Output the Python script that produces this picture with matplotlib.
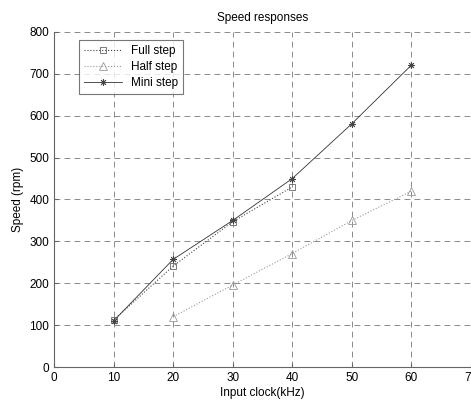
import matplotlib
matplotlib.use("Agg")
import matplotlib.pyplot as plt

plt.rcParams['font.family'] = ['Liberation Sans', 'DejaVu Sans']

# speed readings (rpm) against input clock (kHz)
full_x = [10, 20, 30, 40]
full_y = [112, 241, 347, 430]
half_x = [20, 30, 40, 50, 60]
half_y = [120, 196, 271, 350, 420]
mini_x = [10, 20, 30, 40, 50, 60]
mini_y = [110, 257, 350, 450, 581, 721]

x_ticks = [0, 10, 20, 30, 40, 50, 60, 70]
y_ticks = [0, 100, 200, 300, 400, 500, 600, 700, 800]

fig = plt.figure(figsize=(4.71, 4.01), dpi=100)
ax = fig.add_axes([54/471, 34/401, 417/471, 335/401])

ax.plot(full_x, full_y, color='#444444', linestyle=':', linewidth=0.8,
        marker='s', markersize=5, markerfacecolor='none',
        markeredgecolor='#666666', markeredgewidth=0.6, label='Full step')
ax.plot(half_x, half_y, color='#999999', linestyle=':', linewidth=0.8,
        marker='^', markersize=5.5, markerfacecolor='none',
        markeredgecolor='#999999', markeredgewidth=0.6, label='Half step')
ax.plot(mini_x, mini_y, color='#333333', linestyle='-', linewidth=0.6,
        marker=(8, 2, 0), markersize=5, markeredgecolor='#444444',
        markeredgewidth=0.6, label='Mini step')

ax.set_xlim(0, 70)
ax.set_ylim(0, 800)
ax.set_xticks(x_ticks)
ax.set_yticks(y_ticks)
ax.tick_params(direction='in', length=3, labelsize=8.5, color='#666666')
ax.grid(True, color='#777777', linestyle=(0, (7, 5)), linewidth=0.6)
ax.spines['top'].set_visible(False)
ax.spines['right'].set_visible(False)
for s in ('left', 'bottom'):
    ax.spines[s].set_color('#666666')
    ax.spines[s].set_linewidth(0.8)

ax.set_title('Speed responses', fontsize=8.5, pad=8)
ax.set_xlabel('Input clock(kHz)', fontsize=8.5, labelpad=2)
ax.set_ylabel('Speed (rpm)', fontsize=8.5, labelpad=4)

leg = ax.legend(loc='upper left', bbox_to_anchor=(0.06, 0.975), fontsize=8.5,
                frameon=True, fancybox=False, borderpad=0.4,
                handlelength=3.2, labelspacing=0.35, borderaxespad=0)
leg.get_frame().set_edgecolor('#555555')
leg.get_frame().set_linewidth(0.8)

fig.savefig('out.png', dpi=100)
